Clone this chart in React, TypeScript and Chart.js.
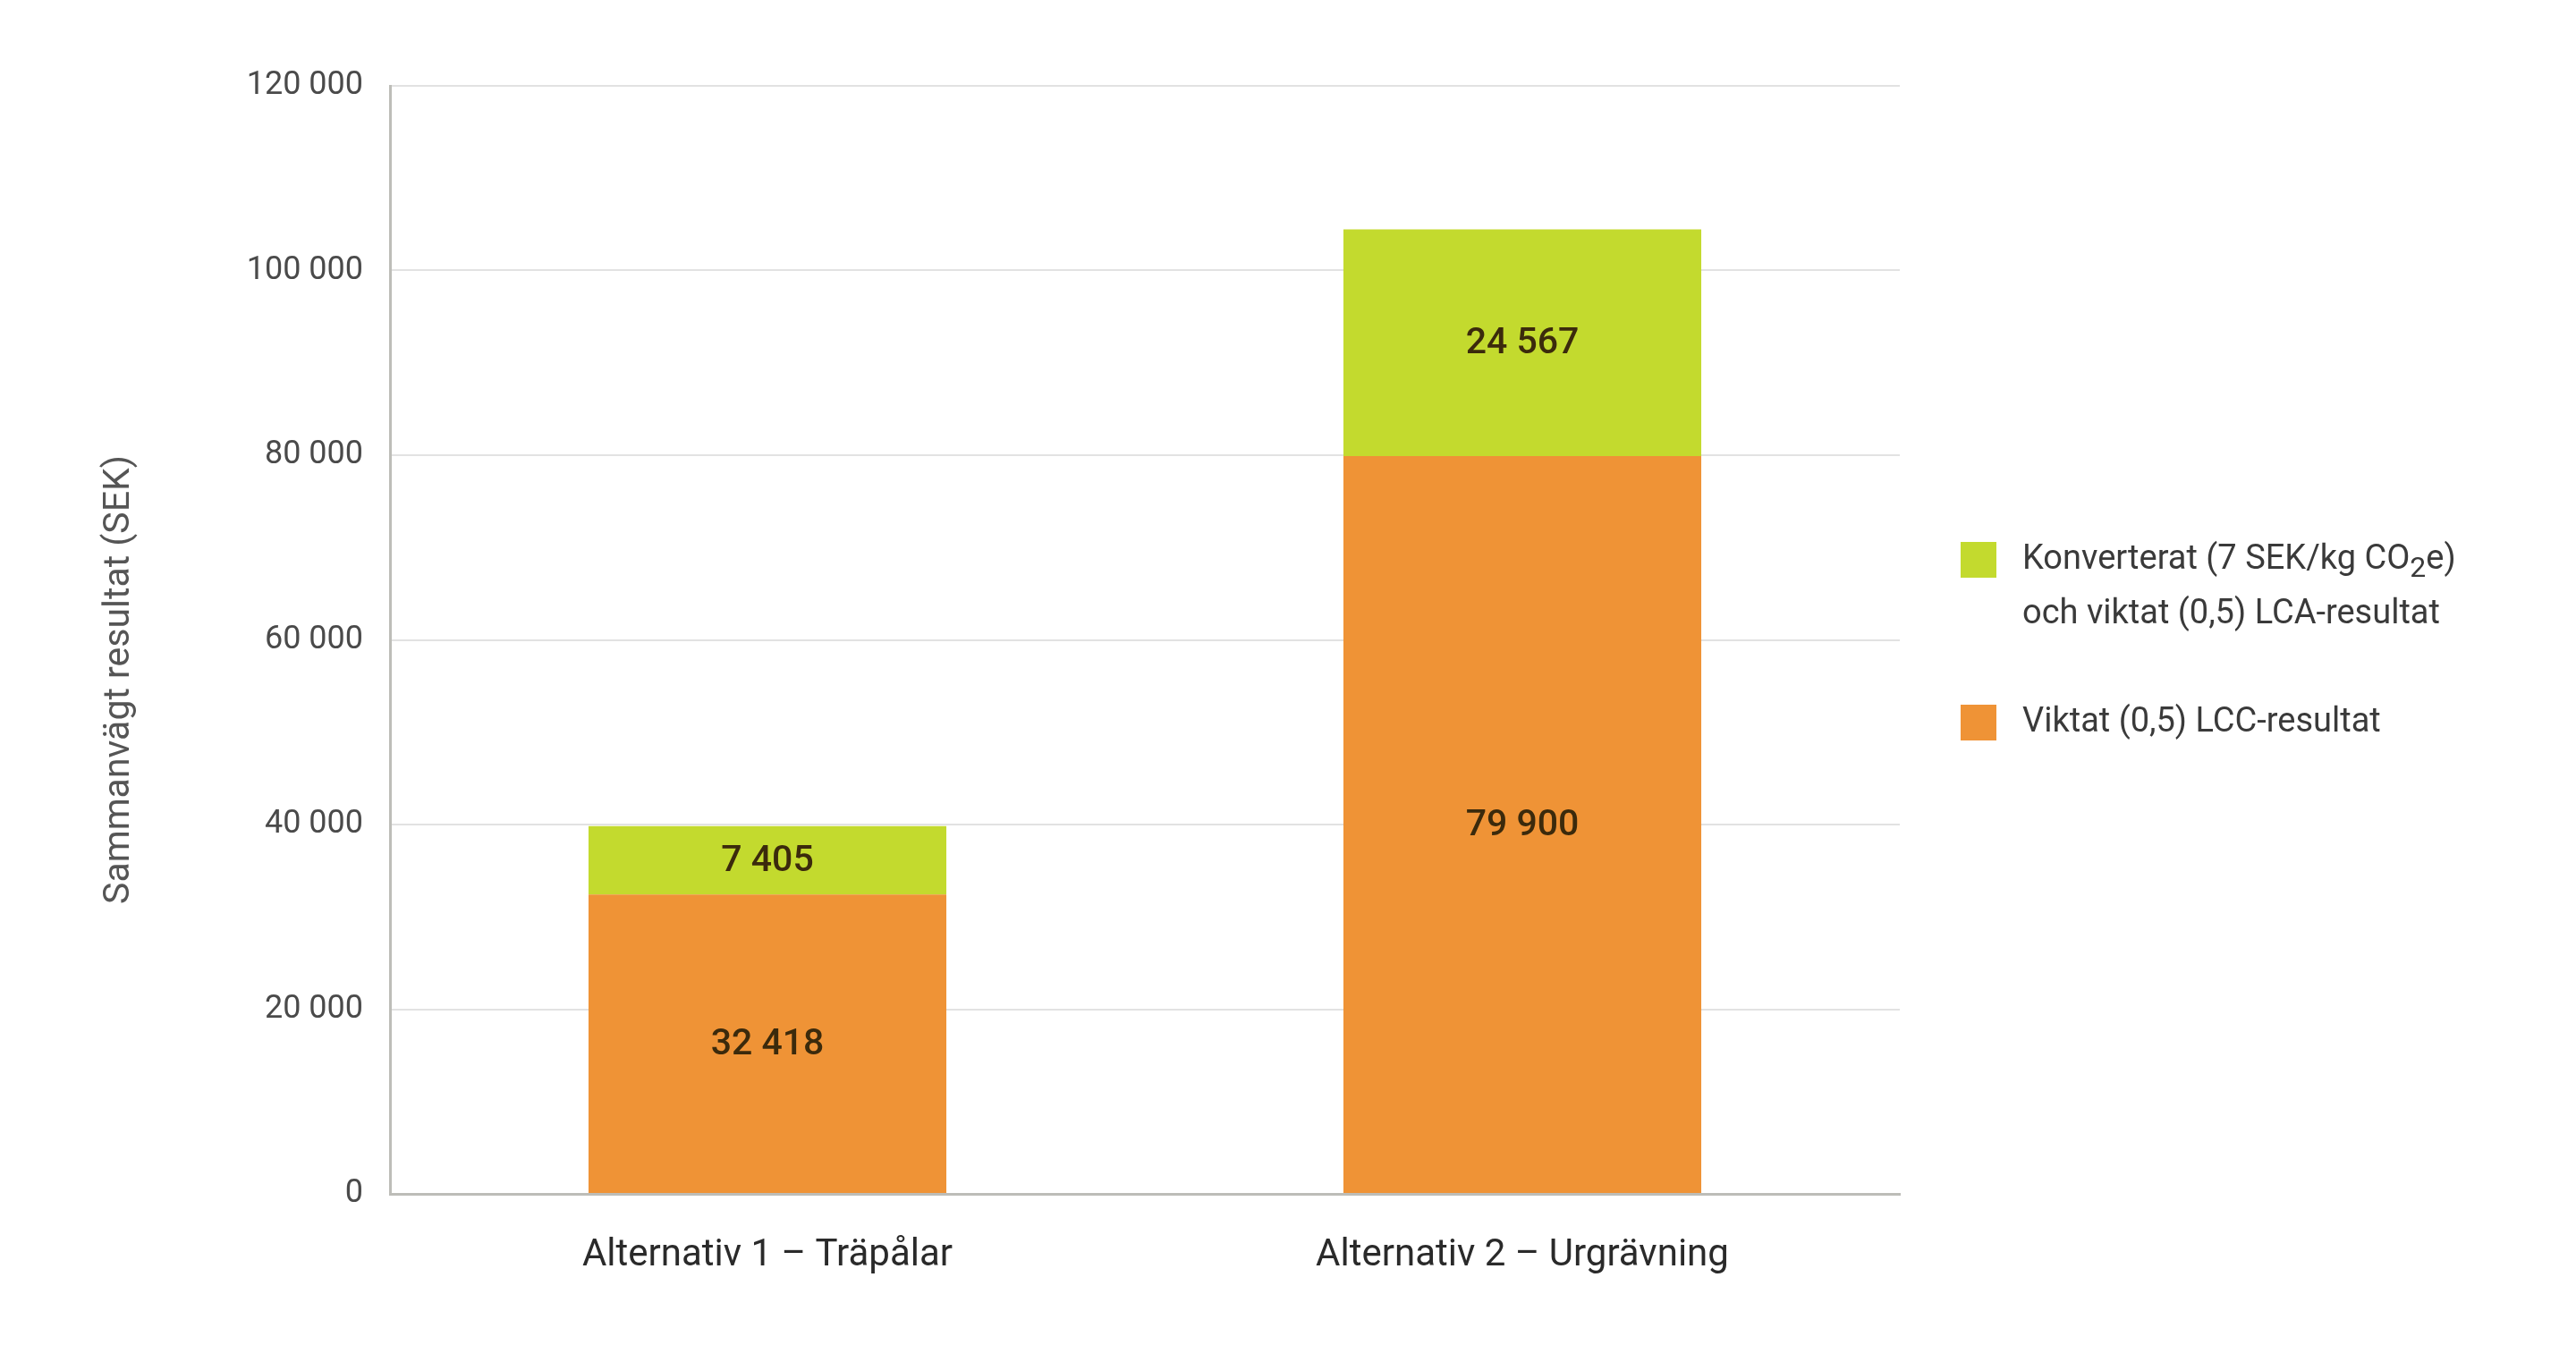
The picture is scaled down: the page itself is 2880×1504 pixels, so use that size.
import { useEffect, useRef } from "react";
import { Chart, registerables, Plugin } from "chart.js";

Chart.register(...registerables);

// data
const categories = ["Alternativ 1 – Träpålar", "Alternativ 2 – Urgrävning"];
const lccValues = [32418, 79900];
const lcaValues = [7405, 24567];
const yTicks = [0, 20000, 40000, 60000, 80000, 100000, 120000];
const lccLabel = ["Viktat (0,5) LCC-resultat"];
const lcaLabel = ["Konverterat (7 SEK/kg CO₂e)", "och viktat (0,5) LCA-resultat"];
const yTitle = "Sammanvägt resultat (SEK)";

const ORANGE = "#ef9336";
const GREEN = "#c3da2e";
const FONT = "Roboto";

const fmt = (v: number) => String(v).replace(/\B(?=(\d{3})+(?!\d))/g, " ");

// numbers in the middle of each stacked segment
const segmentLabels: Plugin = {
  id: "segmentLabels",
  afterDatasetsDraw(chart) {
    const ctx = chart.ctx;
    ctx.save();
    ctx.font = `500 41px ${FONT}`;
    ctx.fillStyle = "#3b2a0c";
    ctx.textAlign = "center";
    ctx.textBaseline = "middle";
    chart.data.datasets.forEach((ds, i) => {
      const meta = chart.getDatasetMeta(i);
      meta.data.forEach((el: any, j) => {
        const v = ds.data[j] as number;
        ctx.fillText(fmt(v), el.x, (el.y + el.base) / 2 + 2);
      });
    });
    ctx.restore();
  },
};

// rotated y title, sitting a little below the middle of the plot like the original
const yTitlePlugin: Plugin = {
  id: "yTitlePlugin",
  afterDraw(chart) {
    const ctx = chart.ctx;
    ctx.save();
    ctx.translate(134, 760);
    ctx.rotate(-Math.PI / 2);
    ctx.font = `400 41px ${FONT}`;
    ctx.fillStyle = "#555";
    ctx.textAlign = "center";
    ctx.textBaseline = "middle";
    ctx.fillText(yTitle, 0, 0);
    ctx.restore();
  },
};

// legend on the right, with multi-line text and a subscript
const sideLegend: Plugin = {
  id: "sideLegend",
  afterDraw(chart) {
    const ctx = chart.ctx;
    const items = [
      { lines: lcaLabel, color: GREEN, top: 606 },
      { lines: lccLabel, color: ORANGE, top: 788 },
    ];
    const boxX = 2192;
    const box = 40;
    const textX = 2261;
    const lineH = 61;
    ctx.save();
    ctx.textBaseline = "middle";
    ctx.textAlign = "left";
    items.forEach((it) => {
      ctx.fillStyle = it.color;
      ctx.fillRect(boxX, it.top, box, box);
      it.lines.forEach((line, k) => {
        const y = it.top + box / 2 + k * lineH;
        let x = textX;
        const parts = line.split("₂");
        parts.forEach((p, pi) => {
          ctx.font = `400 38px ${FONT}`;
          ctx.fillStyle = "#3a3a3a";
          ctx.fillText(p, x, y);
          x += ctx.measureText(p).width;
          if (pi < parts.length - 1) {
            ctx.font = `400 32px ${FONT}`;
            ctx.fillText("2", x, y + 11);
            x += ctx.measureText("2").width;
          }
        });
      });
    });
    ctx.restore();
  },
};

export default function App() {
  const canvasRef = useRef<HTMLCanvasElement>(null);

  useEffect(() => {
    if (!canvasRef.current) return;
    const chart = new Chart(canvasRef.current, {
      type: "bar",
      data: {
        labels: categories,
        datasets: [
          {
            label: lccLabel.join(" "),
            data: lccValues,
            backgroundColor: ORANGE,
            borderWidth: 0,
            categoryPercentage: 1,
            barPercentage: 0.474,
          },
          {
            label: lcaLabel.join(" "),
            data: lcaValues,
            backgroundColor: GREEN,
            borderWidth: 0,
            categoryPercentage: 1,
            barPercentage: 0.474,
          },
        ],
      },
      options: {
        animation: false,
        responsive: true,
        maintainAspectRatio: false,
        layout: { padding: { left: 90, right: 756, top: 96, bottom: 69 } },
        plugins: {
          legend: { display: false },
          tooltip: { enabled: false },
        },
        scales: {
          x: {
            stacked: true,
            grid: { display: false },
            border: { display: true, color: "#bdbdb8", width: 3 },
            ticks: {
              padding: 36,
              color: "#2a2a2a",
              font: { family: FONT, size: 42 },
            },
            afterFit: (s: any) => {
              s.height = 100;
            },
          },
          y: {
            stacked: true,
            min: 0,
            max: 120000,
            afterBuildTicks: (s: any) => {
              s.ticks = yTicks.map((v) => ({ value: v }));
            },
            grid: { color: "#e2e2e2", lineWidth: 2, drawTicks: false },
            border: { display: true, color: "#bdbdb8", width: 3 },
            ticks: {
              padding: 30,
              color: "#4a4a4a",
              font: { family: FONT, size: 36 },
              callback: (v: any) => fmt(Number(v)),
            },
            afterFit: (s: any) => {
              s.width = 436 - 90;
            },
          },
        },
      },
      plugins: [segmentLabels, yTitlePlugin, sideLegend],
    });
    return () => chart.destroy();
  }, []);

  return (
    <div style={{ position: "fixed", left: 0, top: 0, width: 2880, height: 1504, background: "#fff" }}>
      <canvas ref={canvasRef} />
    </div>
  );
}
